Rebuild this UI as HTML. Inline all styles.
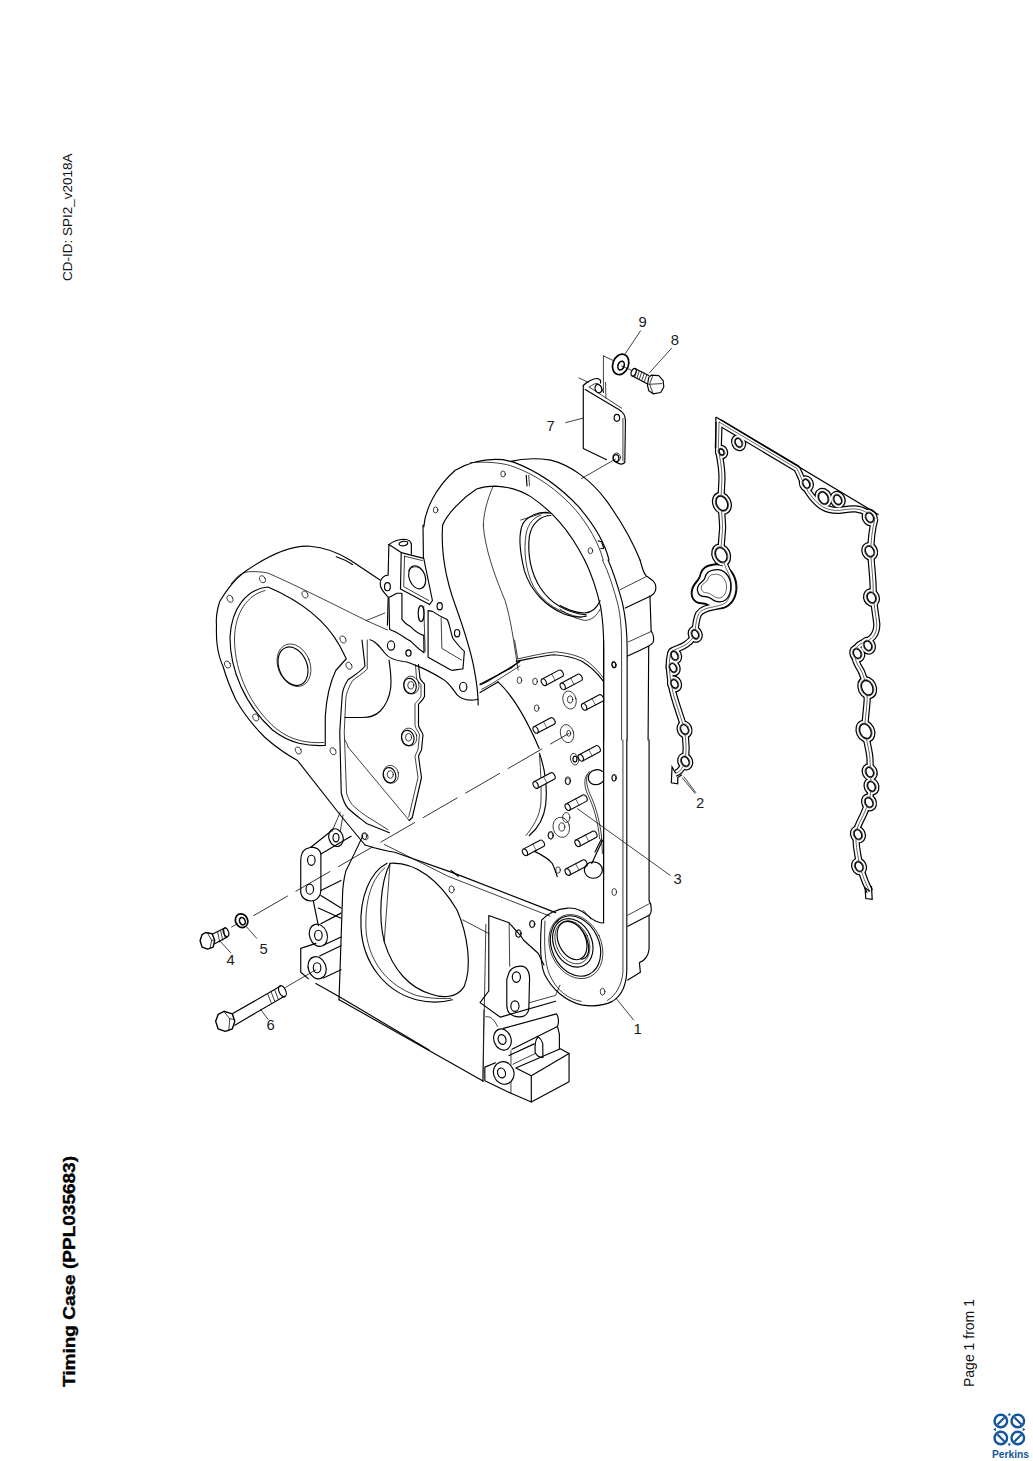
<!DOCTYPE html>
<html><head><meta charset="utf-8">
<style>
html,body{margin:0;padding:0;background:#fff;}
body{width:1033px;height:1461px;position:relative;overflow:hidden;font-family:"Liberation Sans",sans-serif;}
.rot{position:absolute;transform-origin:0 0;white-space:nowrap;color:#111;}
#cdid{left:60px;top:281px;font-size:13.5px;transform:rotate(-90deg);}
#title{left:59px;top:1387px;font-size:17.3px;font-weight:bold;transform:rotate(-90deg) scaleX(1.1);-webkit-text-stroke:0.35px #000;color:#000;}
#page{left:961px;top:1387px;font-size:14px;transform:rotate(-90deg);}
svg{position:absolute;left:0;top:0;}
svg .k{fill:none;stroke:#000;stroke-width:1.15;vector-effect:non-scaling-stroke;stroke-linejoin:round;stroke-linecap:round;}
svg .t{fill:none;stroke:#000;stroke-width:0.75;vector-effect:non-scaling-stroke;stroke-linejoin:round;stroke-linecap:round;}
svg .t *, svg .k *{vector-effect:non-scaling-stroke;}
svg .g1{fill:none;stroke:#000;stroke-width:6.2;stroke-linejoin:round;}
svg .g2{fill:none;stroke:#fff;stroke-width:4.0;stroke-linejoin:round;}
svg .g3{fill:none;stroke:#000;stroke-width:0.6;stroke-linejoin:round;}
svg .boss ellipse{fill:#fff;stroke:#000;stroke-width:1.1;vector-effect:non-scaling-stroke;}
svg .hole ellipse{fill:#fff;stroke:#000;stroke-width:1.3;vector-effect:non-scaling-stroke;}
</style></head><body>
<div class="rot" id="cdid">CD-ID: SPI2_v2018A</div>
<div class="rot" id="title">Timing Case (PPL035683)</div>
<div class="rot" id="page">Page 1 from 1</div>
<svg width="1033" height="1461" viewBox="0 0 1033 1461">
<g transform="translate(190,520) scale(0.25)">
<path class="k" d="M215,210 C300,150 400,100 480,105 C540,110 600,135 640,160 L760,240"/>
<path class="k" d="M585,147 C610,155 630,165 650,178"/>
<path class="k" d="M215,210 C170,245 140,290 119,326 C108,360 104,400 106,421 C105,450 106,480 109,503 C113,530 120,560 132,585 C145,630 165,680 184,720 C215,775 260,830 300,870 C340,905 390,940 430,962 L605,1185 L700,1300"/>
<path class="t" d="M165,255 C185,228 205,210 235,207 C265,205 290,208 310,212 C380,240 560,330 705,402 L790,440"/>
<path class="t" d="M705,402 L780,372"/>
<path class="k" d="M312,268 C230,275 165,350 160,470 C160,600 220,740 330,840 C400,895 470,905 541,902 L541,786 C545,720 560,650 583,602 L625,555 L600,505 C560,432 480,340 312,268"/>
<path class="t" d="M300,282 C230,300 178,370 178,480 C180,610 240,745 345,835 C410,885 470,893 535,890"/>
<ellipse class="k" cx="412" cy="585" rx="56" ry="80" transform="rotate(-22 412 585)"/>
<ellipse class="t" cx="416" cy="581" rx="64" ry="88" transform="rotate(-22 416 581)"/>
<g class="t">
<ellipse cx="290" cy="237" rx="11" ry="15" transform="rotate(-25 290 237)"/><ellipse cx="160" cy="315" rx="11" ry="15" transform="rotate(-25 160 315)"/>
<ellipse cx="460" cy="298" rx="11" ry="15" transform="rotate(-25 460 298)"/><ellipse cx="612" cy="478" rx="11" ry="15" transform="rotate(-25 612 478)"/>
<ellipse cx="636" cy="583" rx="11" ry="15" transform="rotate(-25 636 583)"/><ellipse cx="150" cy="578" rx="11" ry="15" transform="rotate(-25 150 578)"/>
<ellipse cx="263" cy="790" rx="11" ry="15" transform="rotate(-25 263 790)"/><ellipse cx="433" cy="922" rx="11" ry="15" transform="rotate(-25 433 922)"/>
<ellipse cx="572" cy="925" rx="11" ry="15" transform="rotate(-25 572 925)"/><ellipse cx="700" cy="1265" rx="11" ry="15" transform="rotate(-25 700 1265)"/>

</g>
<!-- main plate rim -->
<path class="k" d="M688,480 L700,584 C680,610 650,625 632,639 C615,665 608,690 608,712 L599,847 L605,1092 C612,1120 620,1140 632,1153 C660,1180 690,1200 706,1214 L798,1251"/>
<path class="t" d="M709,480 L709,596 C690,615 665,630 651,642 C635,665 623,700 623,719 L617,847 L626,1092 C635,1120 645,1137 657,1147 C690,1175 705,1185 724,1196 L792,1239"/>
<!-- half disk -->
<path class="k" d="M796,560 C802,600 806,640 803,670 C798,710 785,740 760,765 C740,785 715,790 690,790 L620,790"/>
<!-- rib -->
<path class="k" d="M914,578 L920,633 C925,645 935,650 938,657 L938,706 C932,720 920,730 914,737 L914,823 C920,840 930,850 932,859 L926,920 C920,930 916,940 914,945 L926,1031 L889,1190 L877,1202"/>
<path class="t" d="M902,580 L906,633 C910,645 920,652 924,659 L924,704 C918,718 906,728 900,735 L900,823 C906,840 916,850 918,859 L912,918 C906,930 902,940 900,945 L912,1030 L875,1188"/>
<g class="k"><ellipse cx="880" cy="664" rx="25" ry="31" transform="rotate(-15 880 664)"/><ellipse cx="871" cy="872" rx="25" ry="31" transform="rotate(-15 871 872)"/><ellipse cx="798" cy="1021" rx="25" ry="31" transform="rotate(-15 798 1021)"/></g>
<g class="t"><ellipse cx="883" cy="661" rx="12" ry="15"/><ellipse cx="874" cy="869" rx="12" ry="15"/><ellipse cx="801" cy="1018" rx="12" ry="15"/>
<ellipse cx="886" cy="660" rx="30" ry="36" transform="rotate(-15 886 660)"/><ellipse cx="877" cy="868" rx="30" ry="36" transform="rotate(-15 877 868)"/><ellipse cx="804" cy="1017" rx="30" ry="36" transform="rotate(-15 804 1017)"/></g>
<path class="t" d="M632,908 L877,1202"/>
<path class="t" d="M620,880 L628,895 L632,908"/>
</g>

<!-- cover plate, washer, bolt (zoom origin 560,310 scale 7.946) -->
<g transform="translate(560,310) scale(0.12585)">
<path class="k" d="M185,600 L185,1100 L370,1190"/>
<path class="k" d="M430,1196 C460,1222 495,1232 515,1212 L520,880 C520,840 505,812 470,792 L200,632"/>
<path class="t" d="M500,862 L500,1200"/>
<path class="k" d="M185,600 C205,580 265,540 300,545 L322,558 L322,580"/>
<path class="t" d="M232,612 C255,595 285,578 302,585 L325,605 L345,655"/>
<path class="t" d="M232,612 L490,780"/>
<ellipse class="k" cx="305" cy="625" rx="26" ry="34" transform="rotate(-20 305 625)"/>
<path class="t" d="M345,365 L345,655 M345,365 L420,400 M362,575 L365,700 M150,540 L225,575"/>
<ellipse class="k" cx="452" cy="857" rx="22" ry="28"/>
<ellipse class="k" cx="445" cy="1177" rx="22" ry="28"/>
<ellipse class="t" cx="450" cy="1172" rx="30" ry="36"/>
<path class="t" d="M45,895 L180,860"/>
<path class="t" d="M440,1185 L170,1340"/>
<ellipse class="k" cx="482" cy="432" rx="62" ry="84" transform="rotate(20 482 432)" style="stroke-width:1.7"/>
<ellipse class="k" cx="485" cy="442" rx="24" ry="36" transform="rotate(20 485 442)" style="stroke-width:1.6"/>
<path class="t" d="M490,445 L570,480"/>
<path class="k" d="M595,465 L705,520 M575,525 L700,590"/>
<ellipse class="k" cx="585" cy="495" rx="18" ry="32" transform="rotate(25 585 495)"/>
<path class="t" d="M610,472 L595,530 M630,482 L612,540 M650,492 L630,550 M670,502 L650,560 M690,512 L670,570"/>
<path class="k" d="M705,535 L725,518 L785,522 L820,562 L825,612 L800,656 L740,666 L706,642 L695,598 Z"/>
<path class="t" d="M735,528 L712,590 L740,664 M712,590 L810,585"/>
<path class="t" d="M520,345 L640,165 M710,500 L885,305"/>
</g>

<!-- upper lobe (zoom origin 420,440 scale 3.973) -->
<g transform="translate(420,440) scale(0.2517)">
<path class="k" d="M15,345 C20,280 60,190 140,120 C200,85 260,72 330,78 L372,88"/>
<path class="k" d="M360,85 C400,75 450,70 520,80 C600,100 680,160 740,240 C790,310 840,390 874,477"/>
<path class="k" d="M372,88 C470,125 560,190 630,265 C690,335 735,410 751,477"/>
<path class="t" d="M200,90 C260,85 320,90 360,102 C460,135 550,200 620,280 C670,340 710,410 728,477"/>
<path class="k" d="M90,338 C110,290 170,230 225,195 C250,185 275,183 300,183 C350,185 400,200 440,225 C520,280 590,350 654,477"/>
<path class="t" d="M290,185 C265,240 252,300 252,338"/>
<g class="t"><ellipse cx="330" cy="135" rx="9" ry="12"/><ellipse cx="62" cy="278" rx="9" ry="12"/><ellipse cx="677" cy="440" rx="9" ry="12"/></g>
<path class="k" d="M422,140 L425,182"/>
<path class="t" d="M432,140 L435,182"/>
<!-- big hole -->
<path class="k" d="M510,288 C470,285 430,300 410,330 C390,370 395,440 415,520 C440,600 500,660 570,690 C610,705 640,705 660,700"/>
<path class="t" d="M480,300 C455,305 430,330 422,370 C410,440 420,520 450,580 C490,650 560,690 640,705"/>
<path class="k" d="M520,300 C480,300 445,330 435,380 C425,450 440,530 480,590 C520,650 580,685 660,695"/>
<path class="t" d="M400,318 L490,290 L520,292"/>
<path class="k" d="M708,400 L722,405 L730,430 L718,432"/>
</g>

<g transform="translate(640,400) scale(0.35613)">
<path d="M222,62 L440,192 C452,212 458,240 480,268 C500,294 520,312 560,310 C590,306 612,300 640,318 L660,332" fill="none" stroke="#000" stroke-width="7.2" stroke-linejoin="round" vector-effect="non-scaling-stroke"/>
<path d="M222,62 L220,130 C222,160 232,190 230,225 L228,265 C226,300 232,330 232,360 L228,410 C226,440 240,470 250,490 C262,520 258,550 240,570 C215,585 180,578 165,600 C155,620 158,640 150,665 C135,690 110,695 90,705 C78,725 82,760 88,800 C95,840 112,880 122,915 C130,950 132,990 125,1020 C118,1035 112,1045 100,1048" fill="none" stroke="#000" stroke-width="7.2" stroke-linejoin="round" vector-effect="non-scaling-stroke"/>
<path d="M660,332 C652,360 648,400 648,430 C650,470 655,500 655,540 C655,570 662,600 665,630 C665,660 650,675 625,682 C600,692 598,720 612,745 C630,770 636,800 638,840 C636,880 630,900 632,930 C636,960 645,985 646,1010 C646,1040 650,1075 648,1100 C645,1130 630,1160 615,1190 C602,1215 606,1250 612,1280 C618,1320 630,1350 645,1380" fill="none" stroke="#000" stroke-width="7.2" stroke-linejoin="round" vector-effect="non-scaling-stroke"/>
<ellipse cx="277" cy="120" rx="20.75" ry="24.5" transform="rotate(-25 277 120)" fill="#000"/>
<ellipse cx="229" cy="146" rx="18.25" ry="20.75" transform="rotate(-25 229 146)" fill="#000"/>
<ellipse cx="230" cy="290" rx="27.0" ry="33.25" transform="rotate(-25 230 290)" fill="#000"/>
<ellipse cx="228" cy="435" rx="27.0" ry="33.25" transform="rotate(-25 228 435)" fill="#000"/>
<ellipse cx="155" cy="658" rx="20.75" ry="24.5" transform="rotate(-25 155 658)" fill="#000"/>
<ellipse cx="97" cy="718" rx="20.75" ry="24.5" transform="rotate(-25 97 718)" fill="#000"/>
<ellipse cx="93" cy="752" rx="20.75" ry="24.5" transform="rotate(-25 93 752)" fill="#000"/>
<ellipse cx="97" cy="797" rx="20.75" ry="24.5" transform="rotate(-25 97 797)" fill="#000"/>
<ellipse cx="125" cy="925" rx="22.0" ry="25.75" transform="rotate(-25 125 925)" fill="#000"/>
<ellipse cx="127" cy="1015" rx="22.0" ry="25.75" transform="rotate(-25 127 1015)" fill="#000"/>
<ellipse cx="467" cy="235" rx="20.75" ry="24.5" transform="rotate(-25 467 235)" fill="#000"/>
<ellipse cx="515" cy="275" rx="24.5" ry="29.5" transform="rotate(-25 515 275)" fill="#000"/>
<ellipse cx="555" cy="280" rx="22.0" ry="25.75" transform="rotate(-25 555 280)" fill="#000"/>
<ellipse cx="645" cy="330" rx="22.0" ry="25.75" transform="rotate(-25 645 330)" fill="#000"/>
<ellipse cx="645" cy="425" rx="23.25" ry="27.0" transform="rotate(-25 645 425)" fill="#000"/>
<ellipse cx="650" cy="555" rx="23.25" ry="27.0" transform="rotate(-25 650 555)" fill="#000"/>
<ellipse cx="640" cy="690" rx="22.0" ry="25.75" transform="rotate(-25 640 690)" fill="#000"/>
<ellipse cx="610" cy="712" rx="22.0" ry="25.75" transform="rotate(-25 610 712)" fill="#000"/>
<ellipse cx="638" cy="808" rx="27.0" ry="33.25" transform="rotate(-25 638 808)" fill="#000"/>
<ellipse cx="633" cy="930" rx="27.0" ry="33.25" transform="rotate(-25 633 930)" fill="#000"/>
<ellipse cx="645" cy="1045" rx="22.0" ry="25.75" transform="rotate(-25 645 1045)" fill="#000"/>
<ellipse cx="650" cy="1085" rx="22.0" ry="25.75" transform="rotate(-25 650 1085)" fill="#000"/>
<ellipse cx="643" cy="1130" rx="22.0" ry="25.75" transform="rotate(-25 643 1130)" fill="#000"/>
<ellipse cx="612" cy="1220" rx="22.0" ry="25.75" transform="rotate(-25 612 1220)" fill="#000"/>
<ellipse cx="615" cy="1310" rx="22.0" ry="25.75" transform="rotate(-25 615 1310)" fill="#000"/>
<path d="M200,462 C245,450 275,490 272,532 C268,575 238,592 210,585 C195,580 185,572 172,572 C150,572 140,552 145,532 C150,512 165,505 168,492 C172,474 182,465 200,462 Z" fill="#000" stroke="#000" stroke-width="1" vector-effect="non-scaling-stroke"/>
<path d="M222,62 L440,192 C452,212 458,240 480,268 C500,294 520,312 560,310 C590,306 612,300 640,318 L660,332" fill="none" stroke="#fff" stroke-width="4.8" stroke-linejoin="round" vector-effect="non-scaling-stroke"/>
<path d="M222,62 L220,130 C222,160 232,190 230,225 L228,265 C226,300 232,330 232,360 L228,410 C226,440 240,470 250,490 C262,520 258,550 240,570 C215,585 180,578 165,600 C155,620 158,640 150,665 C135,690 110,695 90,705 C78,725 82,760 88,800 C95,840 112,880 122,915 C130,950 132,990 125,1020 C118,1035 112,1045 100,1048" fill="none" stroke="#fff" stroke-width="4.8" stroke-linejoin="round" vector-effect="non-scaling-stroke"/>
<path d="M660,332 C652,360 648,400 648,430 C650,470 655,500 655,540 C655,570 662,600 665,630 C665,660 650,675 625,682 C600,692 598,720 612,745 C630,770 636,800 638,840 C636,880 630,900 632,930 C636,960 645,985 646,1010 C646,1040 650,1075 648,1100 C645,1130 630,1160 615,1190 C602,1215 606,1250 612,1280 C618,1320 630,1350 645,1380" fill="none" stroke="#fff" stroke-width="4.8" stroke-linejoin="round" vector-effect="non-scaling-stroke"/>
<ellipse cx="277" cy="120" rx="17.25" ry="21.0" transform="rotate(-25 277 120)" fill="#fff"/>
<ellipse cx="229" cy="146" rx="14.75" ry="17.25" transform="rotate(-25 229 146)" fill="#fff"/>
<ellipse cx="230" cy="290" rx="23.5" ry="29.75" transform="rotate(-25 230 290)" fill="#fff"/>
<ellipse cx="228" cy="435" rx="23.5" ry="29.75" transform="rotate(-25 228 435)" fill="#fff"/>
<ellipse cx="155" cy="658" rx="17.25" ry="21.0" transform="rotate(-25 155 658)" fill="#fff"/>
<ellipse cx="97" cy="718" rx="17.25" ry="21.0" transform="rotate(-25 97 718)" fill="#fff"/>
<ellipse cx="93" cy="752" rx="17.25" ry="21.0" transform="rotate(-25 93 752)" fill="#fff"/>
<ellipse cx="97" cy="797" rx="17.25" ry="21.0" transform="rotate(-25 97 797)" fill="#fff"/>
<ellipse cx="125" cy="925" rx="18.5" ry="22.25" transform="rotate(-25 125 925)" fill="#fff"/>
<ellipse cx="127" cy="1015" rx="18.5" ry="22.25" transform="rotate(-25 127 1015)" fill="#fff"/>
<ellipse cx="467" cy="235" rx="17.25" ry="21.0" transform="rotate(-25 467 235)" fill="#fff"/>
<ellipse cx="515" cy="275" rx="21.0" ry="26.0" transform="rotate(-25 515 275)" fill="#fff"/>
<ellipse cx="555" cy="280" rx="18.5" ry="22.25" transform="rotate(-25 555 280)" fill="#fff"/>
<ellipse cx="645" cy="330" rx="18.5" ry="22.25" transform="rotate(-25 645 330)" fill="#fff"/>
<ellipse cx="645" cy="425" rx="19.75" ry="23.5" transform="rotate(-25 645 425)" fill="#fff"/>
<ellipse cx="650" cy="555" rx="19.75" ry="23.5" transform="rotate(-25 650 555)" fill="#fff"/>
<ellipse cx="640" cy="690" rx="18.5" ry="22.25" transform="rotate(-25 640 690)" fill="#fff"/>
<ellipse cx="610" cy="712" rx="18.5" ry="22.25" transform="rotate(-25 610 712)" fill="#fff"/>
<ellipse cx="638" cy="808" rx="23.5" ry="29.75" transform="rotate(-25 638 808)" fill="#fff"/>
<ellipse cx="633" cy="930" rx="23.5" ry="29.75" transform="rotate(-25 633 930)" fill="#fff"/>
<ellipse cx="645" cy="1045" rx="18.5" ry="22.25" transform="rotate(-25 645 1045)" fill="#fff"/>
<ellipse cx="650" cy="1085" rx="18.5" ry="22.25" transform="rotate(-25 650 1085)" fill="#fff"/>
<ellipse cx="643" cy="1130" rx="18.5" ry="22.25" transform="rotate(-25 643 1130)" fill="#fff"/>
<ellipse cx="612" cy="1220" rx="18.5" ry="22.25" transform="rotate(-25 612 1220)" fill="#fff"/>
<ellipse cx="615" cy="1310" rx="18.5" ry="22.25" transform="rotate(-25 615 1310)" fill="#fff"/>
<path d="M201,466 C242,455 271,492 268,532 C264,572 236,588 210,581 C196,577 186,568 172,568 C153,568 144,551 149,533 C154,515 168,508 171,494 C175,478 184,469 201,466 Z" fill="#fff"/>
<path d="M222,62 L440,192 C452,212 458,240 480,268 C500,294 520,312 560,310 C590,306 612,300 640,318 L660,332" fill="none" stroke="#000" stroke-width="0.6" stroke-linejoin="round" vector-effect="non-scaling-stroke"/>
<path d="M222,62 L220,130 C222,160 232,190 230,225 L228,265 C226,300 232,330 232,360 L228,410 C226,440 240,470 250,490 C262,520 258,550 240,570 C215,585 180,578 165,600 C155,620 158,640 150,665 C135,690 110,695 90,705 C78,725 82,760 88,800 C95,840 112,880 122,915 C130,950 132,990 125,1020 C118,1035 112,1045 100,1048" fill="none" stroke="#000" stroke-width="0.6" stroke-linejoin="round" vector-effect="non-scaling-stroke"/>
<path d="M660,332 C652,360 648,400 648,430 C650,470 655,500 655,540 C655,570 662,600 665,630 C665,660 650,675 625,682 C600,692 598,720 612,745 C630,770 636,800 638,840 C636,880 630,900 632,930 C636,960 645,985 646,1010 C646,1040 650,1075 648,1100 C645,1130 630,1160 615,1190 C602,1215 606,1250 612,1280 C618,1320 630,1350 645,1380" fill="none" stroke="#000" stroke-width="0.6" stroke-linejoin="round" vector-effect="non-scaling-stroke"/>
<ellipse cx="277" cy="120" rx="11.25" ry="15.0" transform="rotate(-25 277 120)" fill="#fff" stroke="#000" stroke-width="0.6" vector-effect="non-scaling-stroke"/>
<ellipse cx="277" cy="120" rx="8.75" ry="12.5" transform="rotate(-25 277 120)" fill="#fff" stroke="#000" stroke-width="1.3" vector-effect="non-scaling-stroke"/>
<ellipse cx="229" cy="146" rx="8.75" ry="11.25" transform="rotate(-25 229 146)" fill="#fff" stroke="#000" stroke-width="0.6" vector-effect="non-scaling-stroke"/>
<ellipse cx="229" cy="146" rx="6.25" ry="8.75" transform="rotate(-25 229 146)" fill="#fff" stroke="#000" stroke-width="1.3" vector-effect="non-scaling-stroke"/>
<ellipse cx="230" cy="290" rx="17.5" ry="23.75" transform="rotate(-25 230 290)" fill="#fff" stroke="#000" stroke-width="0.6" vector-effect="non-scaling-stroke"/>
<ellipse cx="230" cy="290" rx="15.0" ry="21.25" transform="rotate(-25 230 290)" fill="#fff" stroke="#000" stroke-width="1.3" vector-effect="non-scaling-stroke"/>
<ellipse cx="228" cy="435" rx="17.5" ry="23.75" transform="rotate(-25 228 435)" fill="#fff" stroke="#000" stroke-width="0.6" vector-effect="non-scaling-stroke"/>
<ellipse cx="228" cy="435" rx="15.0" ry="21.25" transform="rotate(-25 228 435)" fill="#fff" stroke="#000" stroke-width="1.3" vector-effect="non-scaling-stroke"/>
<ellipse cx="155" cy="658" rx="11.25" ry="15.0" transform="rotate(-25 155 658)" fill="#fff" stroke="#000" stroke-width="0.6" vector-effect="non-scaling-stroke"/>
<ellipse cx="155" cy="658" rx="8.75" ry="12.5" transform="rotate(-25 155 658)" fill="#fff" stroke="#000" stroke-width="1.3" vector-effect="non-scaling-stroke"/>
<ellipse cx="97" cy="718" rx="11.25" ry="15.0" transform="rotate(-25 97 718)" fill="#fff" stroke="#000" stroke-width="0.6" vector-effect="non-scaling-stroke"/>
<ellipse cx="97" cy="718" rx="8.75" ry="12.5" transform="rotate(-25 97 718)" fill="#fff" stroke="#000" stroke-width="1.3" vector-effect="non-scaling-stroke"/>
<ellipse cx="93" cy="752" rx="11.25" ry="15.0" transform="rotate(-25 93 752)" fill="#fff" stroke="#000" stroke-width="0.6" vector-effect="non-scaling-stroke"/>
<ellipse cx="93" cy="752" rx="8.75" ry="12.5" transform="rotate(-25 93 752)" fill="#fff" stroke="#000" stroke-width="1.3" vector-effect="non-scaling-stroke"/>
<ellipse cx="97" cy="797" rx="11.25" ry="15.0" transform="rotate(-25 97 797)" fill="#fff" stroke="#000" stroke-width="0.6" vector-effect="non-scaling-stroke"/>
<ellipse cx="97" cy="797" rx="8.75" ry="12.5" transform="rotate(-25 97 797)" fill="#fff" stroke="#000" stroke-width="1.3" vector-effect="non-scaling-stroke"/>
<ellipse cx="125" cy="925" rx="12.5" ry="16.25" transform="rotate(-25 125 925)" fill="#fff" stroke="#000" stroke-width="0.6" vector-effect="non-scaling-stroke"/>
<ellipse cx="125" cy="925" rx="10.0" ry="13.75" transform="rotate(-25 125 925)" fill="#fff" stroke="#000" stroke-width="1.3" vector-effect="non-scaling-stroke"/>
<ellipse cx="127" cy="1015" rx="12.5" ry="16.25" transform="rotate(-25 127 1015)" fill="#fff" stroke="#000" stroke-width="0.6" vector-effect="non-scaling-stroke"/>
<ellipse cx="127" cy="1015" rx="10.0" ry="13.75" transform="rotate(-25 127 1015)" fill="#fff" stroke="#000" stroke-width="1.3" vector-effect="non-scaling-stroke"/>
<ellipse cx="467" cy="235" rx="11.25" ry="15.0" transform="rotate(-25 467 235)" fill="#fff" stroke="#000" stroke-width="0.6" vector-effect="non-scaling-stroke"/>
<ellipse cx="467" cy="235" rx="8.75" ry="12.5" transform="rotate(-25 467 235)" fill="#fff" stroke="#000" stroke-width="1.3" vector-effect="non-scaling-stroke"/>
<ellipse cx="515" cy="275" rx="15.0" ry="20.0" transform="rotate(-25 515 275)" fill="#fff" stroke="#000" stroke-width="0.6" vector-effect="non-scaling-stroke"/>
<ellipse cx="515" cy="275" rx="12.5" ry="17.5" transform="rotate(-25 515 275)" fill="#fff" stroke="#000" stroke-width="1.3" vector-effect="non-scaling-stroke"/>
<ellipse cx="555" cy="280" rx="12.5" ry="16.25" transform="rotate(-25 555 280)" fill="#fff" stroke="#000" stroke-width="0.6" vector-effect="non-scaling-stroke"/>
<ellipse cx="555" cy="280" rx="10.0" ry="13.75" transform="rotate(-25 555 280)" fill="#fff" stroke="#000" stroke-width="1.3" vector-effect="non-scaling-stroke"/>
<ellipse cx="645" cy="330" rx="12.5" ry="16.25" transform="rotate(-25 645 330)" fill="#fff" stroke="#000" stroke-width="0.6" vector-effect="non-scaling-stroke"/>
<ellipse cx="645" cy="330" rx="10.0" ry="13.75" transform="rotate(-25 645 330)" fill="#fff" stroke="#000" stroke-width="1.3" vector-effect="non-scaling-stroke"/>
<ellipse cx="645" cy="425" rx="13.75" ry="17.5" transform="rotate(-25 645 425)" fill="#fff" stroke="#000" stroke-width="0.6" vector-effect="non-scaling-stroke"/>
<ellipse cx="645" cy="425" rx="11.25" ry="15.0" transform="rotate(-25 645 425)" fill="#fff" stroke="#000" stroke-width="1.3" vector-effect="non-scaling-stroke"/>
<ellipse cx="650" cy="555" rx="13.75" ry="17.5" transform="rotate(-25 650 555)" fill="#fff" stroke="#000" stroke-width="0.6" vector-effect="non-scaling-stroke"/>
<ellipse cx="650" cy="555" rx="11.25" ry="15.0" transform="rotate(-25 650 555)" fill="#fff" stroke="#000" stroke-width="1.3" vector-effect="non-scaling-stroke"/>
<ellipse cx="640" cy="690" rx="12.5" ry="16.25" transform="rotate(-25 640 690)" fill="#fff" stroke="#000" stroke-width="0.6" vector-effect="non-scaling-stroke"/>
<ellipse cx="640" cy="690" rx="10.0" ry="13.75" transform="rotate(-25 640 690)" fill="#fff" stroke="#000" stroke-width="1.3" vector-effect="non-scaling-stroke"/>
<ellipse cx="610" cy="712" rx="12.5" ry="16.25" transform="rotate(-25 610 712)" fill="#fff" stroke="#000" stroke-width="0.6" vector-effect="non-scaling-stroke"/>
<ellipse cx="610" cy="712" rx="10.0" ry="13.75" transform="rotate(-25 610 712)" fill="#fff" stroke="#000" stroke-width="1.3" vector-effect="non-scaling-stroke"/>
<ellipse cx="638" cy="808" rx="17.5" ry="23.75" transform="rotate(-25 638 808)" fill="#fff" stroke="#000" stroke-width="0.6" vector-effect="non-scaling-stroke"/>
<ellipse cx="638" cy="808" rx="15.0" ry="21.25" transform="rotate(-25 638 808)" fill="#fff" stroke="#000" stroke-width="1.3" vector-effect="non-scaling-stroke"/>
<ellipse cx="633" cy="930" rx="17.5" ry="23.75" transform="rotate(-25 633 930)" fill="#fff" stroke="#000" stroke-width="0.6" vector-effect="non-scaling-stroke"/>
<ellipse cx="633" cy="930" rx="15.0" ry="21.25" transform="rotate(-25 633 930)" fill="#fff" stroke="#000" stroke-width="1.3" vector-effect="non-scaling-stroke"/>
<ellipse cx="645" cy="1045" rx="12.5" ry="16.25" transform="rotate(-25 645 1045)" fill="#fff" stroke="#000" stroke-width="0.6" vector-effect="non-scaling-stroke"/>
<ellipse cx="645" cy="1045" rx="10.0" ry="13.75" transform="rotate(-25 645 1045)" fill="#fff" stroke="#000" stroke-width="1.3" vector-effect="non-scaling-stroke"/>
<ellipse cx="650" cy="1085" rx="12.5" ry="16.25" transform="rotate(-25 650 1085)" fill="#fff" stroke="#000" stroke-width="0.6" vector-effect="non-scaling-stroke"/>
<ellipse cx="650" cy="1085" rx="10.0" ry="13.75" transform="rotate(-25 650 1085)" fill="#fff" stroke="#000" stroke-width="1.3" vector-effect="non-scaling-stroke"/>
<ellipse cx="643" cy="1130" rx="12.5" ry="16.25" transform="rotate(-25 643 1130)" fill="#fff" stroke="#000" stroke-width="0.6" vector-effect="non-scaling-stroke"/>
<ellipse cx="643" cy="1130" rx="10.0" ry="13.75" transform="rotate(-25 643 1130)" fill="#fff" stroke="#000" stroke-width="1.3" vector-effect="non-scaling-stroke"/>
<ellipse cx="612" cy="1220" rx="12.5" ry="16.25" transform="rotate(-25 612 1220)" fill="#fff" stroke="#000" stroke-width="0.6" vector-effect="non-scaling-stroke"/>
<ellipse cx="612" cy="1220" rx="10.0" ry="13.75" transform="rotate(-25 612 1220)" fill="#fff" stroke="#000" stroke-width="1.3" vector-effect="non-scaling-stroke"/>
<ellipse cx="615" cy="1310" rx="12.5" ry="16.25" transform="rotate(-25 615 1310)" fill="#fff" stroke="#000" stroke-width="0.6" vector-effect="non-scaling-stroke"/>
<ellipse cx="615" cy="1310" rx="10.0" ry="13.75" transform="rotate(-25 615 1310)" fill="#fff" stroke="#000" stroke-width="1.3" vector-effect="non-scaling-stroke"/>
<path d="M213,48 L670,322 M213,48 L213,135" fill="none" stroke="#000" stroke-width="1.2" vector-effect="non-scaling-stroke"/>
<path d="M205,478 C235,470 258,495 255,530 C252,560 232,572 212,565 C200,560 195,550 180,552 C165,552 158,538 162,525 C166,512 180,510 182,500 C185,488 192,480 205,478 Z" fill="#fff" stroke="#000" stroke-width="1.3" vector-effect="non-scaling-stroke"/>
<path d="M206,490 C228,485 245,505 243,530 C240,552 226,560 212,554 C202,549 196,541 184,541 C174,540 170,530 173,522 C177,514 188,512 190,504 C193,495 198,490 206,490 Z" fill="none" stroke="#000" stroke-width="0.6" vector-effect="non-scaling-stroke"/>
<path d="M100,1048 L90,1030 L88,1075 L106,1078 L106,1060 L118,1052" fill="none" stroke="#000" stroke-width="1.2" vector-effect="non-scaling-stroke"/>
<path d="M645,1380 L632,1370 L634,1400 L652,1402 L650,1365" fill="none" stroke="#000" stroke-width="1.2" vector-effect="non-scaling-stroke"/>
<path d="M118,1060 L155,1105" fill="none" stroke="#000" stroke-width="0.75" vector-effect="non-scaling-stroke"/>
</g>

<!-- right band upper (origin 560,560 scale 8.117) -->
<g transform="translate(560,560) scale(0.1232)">
<path class="k" d="M200,0 C250,100 300,250 330,380 C345,470 355,600 355,720 L355,1461"/>
<path class="t" d="M345,0 C400,110 440,250 470,360 C490,450 500,560 500,700 L500,1461"/>
<path class="k" d="M390,0 C440,110 480,250 505,340 C530,450 545,560 545,720 L545,1461"/>
<path class="k" d="M650,0 C665,60 680,110 700,130 C730,150 760,160 775,200 C785,240 775,270 740,290 L530,390"/>
<path class="t" d="M490,240 L700,135"/>
<path class="k" d="M730,290 L740,580 C760,600 765,640 755,670 C745,690 720,700 550,780"/>
<path class="t" d="M555,665 L745,578"/>
<path class="k" d="M720,700 L715,1461"/>
<!-- lower boundary of upper lobe -->
<path class="k" d="M0,370 C60,400 120,430 200,430 C260,425 300,390 325,330"/>
<path class="t" d="M0,400 C60,440 130,480 200,490 C260,490 300,450 325,400"/>
<g class="k"><ellipse cx="438" cy="850" rx="16" ry="24" transform="rotate(-15 438 850)"/></g>
</g>
<!-- right band lower + seal (origin 500,740 scale 5.165) -->
<g transform="translate(500,740) scale(0.19361)">
<path class="k" d="M655,0 L655,1180 C655,1260 630,1320 580,1350 C540,1370 480,1378 420,1368 C340,1350 270,1290 230,1210 C205,1150 205,1060 215,930 C240,900 290,872 350,868 C400,866 430,885 470,920 C490,935 510,945 535,945 L535,0"/>
<path class="t" d="M635,0 L635,1200 C630,1260 600,1320 555,1345"/>
<path class="t" d="M232,935 C228,1050 230,1150 255,1210 C290,1290 350,1340 420,1350"/>
<path class="k" d="M770,0 L770,830 C785,850 785,895 770,905 L660,962"/>
<path class="t" d="M660,905 L772,845"/>
<path class="k" d="M770,905 L770,1080 C765,1120 745,1140 720,1150 L725,1200 L660,1240"/>
<!-- seal rings -->
<ellipse class="t" cx="392" cy="1067" rx="132" ry="172" transform="rotate(-25 392 1067)"/>
<ellipse class="k" cx="390" cy="1064" rx="122" ry="162" transform="rotate(-25 390 1064)"/>
<ellipse class="k" cx="376" cy="1048" rx="98" ry="130" transform="rotate(-25 376 1048)"/>
<ellipse class="t" cx="374" cy="1045" rx="84" ry="116" transform="rotate(-25 374 1045)"/>
<ellipse class="k" cx="372" cy="1036" rx="70" ry="104" transform="rotate(-25 372 1036)"/>
<path class="k" d="M350,935 C400,940 440,990 455,1050 C465,1100 450,1130 420,1132" stroke-width="2.2"/>
<path class="t" d="M430,880 L470,925"/>
<g class="t"><ellipse cx="590" cy="195" rx="12" ry="18"/><ellipse cx="590" cy="785" rx="12" ry="18"/><ellipse cx="530" cy="1300" rx="12" ry="18"/><ellipse cx="350" cy="210" rx="14" ry="20"/><ellipse cx="262" cy="492" rx="14" ry="20"/><ellipse cx="165" cy="950" rx="13" ry="18"/><ellipse cx="95" cy="1000" rx="13" ry="18"/></g>
<!-- leaders -->
<path class="t" d="M400,355 L880,700"/>
<path class="t" d="M600,1335 L690,1446"/>
<path class="t" d="M950,190 L1010,270"/>
</g>

<!-- bottom-left column & bolts (origin 190,820 scale 3.973) -->
<g transform="translate(190,820) scale(0.2517)">
<!-- bolt 4 -->
<path class="k" style="stroke-width:1.4" d="M48,455 L62,447 L88,452 L98,478 L92,505 L70,513 L48,505 L40,480 Z"/>
<path class="t" d="M70,450 L86,478 L80,508 M86,478 L98,478"/>
<path class="k" d="M92,452 L140,428 M98,492 L148,465"/>
<ellipse class="k" cx="143" cy="446" rx="10" ry="18" transform="rotate(-20 143 446)"/>
<path class="t" d="M110,445 L118,485 M122,440 L130,478 M134,434 L140,470"/>
<path class="t" d="M120,482 L162,528"/>
<!-- washer 5 -->
<ellipse class="k" cx="205" cy="400" rx="24" ry="28" transform="rotate(-25 205 400)" style="stroke-width:1.7"/>
<ellipse class="k" cx="208" cy="402" rx="11" ry="15" transform="rotate(-25 208 402)" style="stroke-width:1.5"/>
<path class="t" d="M165,425 L190,412 M225,425 L265,470"/>

<!-- bolt 6 -->
<path class="k" style="stroke-width:1.4" d="M112,772 L135,760 L168,770 L178,800 L168,830 L140,840 L112,830 L102,800 Z"/>
<path class="t" d="M138,765 L158,790 L154,838 M158,790 L176,792"/>
<path class="k" d="M168,770 L360,660 M178,815 L375,700"/>
<ellipse class="k" cx="367" cy="680" rx="13" ry="24" transform="rotate(-25 367 680)"/>
<path class="t" d="M308,690 L322,725 M322,682 L336,718 M336,674 L350,710"/>
<path class="t" d="M280,752 L310,792 M380,665 L500,595"/>
<!-- left column -->
<path class="k" d="M460,115 C445,125 440,140 440,160 L440,290 C445,310 460,320 480,322 C505,322 520,300 520,280 L520,135 C515,115 500,108 480,108 Z"/>
<ellipse class="k" cx="482" cy="160" rx="15" ry="20"/><ellipse class="k" cx="476" cy="275" rx="15" ry="20"/>
<path class="k" d="M480,108 L560,45 M520,135 L640,65 M520,280 L600,240"/>
<ellipse class="k" cx="580" cy="70" rx="28" ry="36" transform="rotate(-20 580 70)"/>
<ellipse class="k" cx="580" cy="70" rx="12" ry="17"/>
<path class="t" d="M597,-31 L564,46 M608,-20 L597,46"/>
<ellipse class="t" cx="693" cy="65" rx="9" ry="12"/>
<path class="k" d="M490,322 L510,420 M520,300 L600,350 M510,350 L600,390"/>
<ellipse class="k" cx="510" cy="458" rx="35" ry="45" transform="rotate(-20 510 458)"/>
<ellipse class="k" cx="510" cy="458" rx="15" ry="20"/>
<path class="k" d="M520,412 L600,370 M530,498 L600,465"/>
<path class="k" d="M440,510 L440,605 L470,630 M440,510 L500,490"/>
<ellipse class="k" cx="505" cy="587" rx="35" ry="45" transform="rotate(-20 505 587)"/>
<ellipse class="k" cx="505" cy="587" rx="15" ry="20"/>
<path class="k" d="M515,540 L600,500 M530,628 L600,595"/>
<path class="k" d="M500,650 L590,700 L950,914"/>
<path class="k" d="M686,63 C670,100 640,160 619,203 C610,240 606,280 606,302 L592,715"/>
</g>
<!-- bottom center (origin 300,840 scale 3.443) -->
<g transform="translate(300,840) scale(0.29044)">
<path class="k" d="M135,550 L630,830"/>
<path class="t" d="M640,290 L630,830"/>
<path class="t" d="M290,15 L510,125 L860,262 M560,275 L650,322"/>
<path class="k" d="M224,17 C270,32 300,38 326,42 L530,114 L880,250"/><path class="k" d="M520,105 L545,125"/>
<ellipse class="t" cx="522" cy="170" rx="9" ry="12"/><ellipse class="t" cx="800" cy="290" rx="9" ry="12"/><ellipse class="t" cx="752" cy="322" rx="10" ry="13"/>
<!-- crank hole -->
<path class="k" d="M300,80 C240,110 205,200 210,300 C215,420 290,520 400,550 C440,560 490,560 525,550"/>
<path class="t" d="M292,96 C238,140 222,230 228,320 C240,420 300,500 400,535 C440,545 480,548 520,545"/>
<path class="k" d="M310,80 C400,75 480,140 540,240 C580,330 592,440 565,505 C540,545 490,545 450,530 C380,510 320,450 290,350 C270,270 275,150 310,80 Z"/>
<path class="t" d="M310,80 L290,350"/>
<!-- right pad -->
<path class="k" d="M720,455 C730,435 760,430 775,438 C790,450 792,470 790,490 L788,580 C785,605 765,612 745,608 C725,604 712,590 712,570 L712,480 Z"/>
<ellipse class="k" cx="745" cy="472" rx="14" ry="18"/><ellipse class="k" cx="740" cy="572" rx="14" ry="18"/>
<path class="k" d="M650,260 L720,285 L760,330 L770,345 L820,390 L840,430 M650,260 L650,520 L620,560 L690,610 L880,555"/>
<path class="t" d="M720,285 L722,435 M790,560 L880,535 L895,500"/>







</g>

<!-- feet (origin 480,1010 scale 10.33) -->
<g transform="translate(480,1010) scale(0.096805)">
<path class="k" d="M240,190 L790,40 C815,70 815,140 800,170 L330,405"/>
<ellipse class="k" cx="232" cy="305" rx="88" ry="112" transform="rotate(-20 232 305)"/>
<ellipse class="k" cx="228" cy="305" rx="40" ry="52" transform="rotate(-20 228 305)"/>
<path class="k" d="M300,470 L560,350 M800,170 L820,250 L820,400"/>
<path class="t" d="M320,420 L320,560 M340,560 L570,450"/>
<path class="k" d="M570,440 C565,380 570,310 600,275 C620,290 640,320 648,345 L650,490 C620,492 590,480 570,440 Z"/>
<ellipse class="k" cx="245" cy="650" rx="105" ry="118" transform="rotate(-20 245 650)"/>
<ellipse class="k" cx="222" cy="650" rx="40" ry="52" transform="rotate(-20 222 650)"/>
<path class="k" d="M370,600 L830,400 L920,450 L530,680 Z"/>
<path class="k" d="M530,680 L530,950 L920,740 L920,450"/>
<path class="t" d="M320,740 L320,860"/>
<path class="k" d="M50,590 L160,545 M50,590 L50,730 L320,860 L530,950"/>
<path class="t" d="M40,0 L30,740 M60,70 C110,60 150,100 180,170"/>
</g>

<!-- bracket (origin 370,525 scale 6.887) -->
<g transform="translate(370,525) scale(0.1452)">
<path class="k" d="M365,0 L368,230"/>
<path class="k" d="M500,0 C490,150 505,330 590,560 C640,700 690,850 715,980 C735,1080 745,1160 745,1240"/>
<path class="t" d="M780,0 C790,150 850,330 930,520 C970,650 990,800 1020,1000"/>
<path class="k" d="M760,1100 C800,1090 900,1020 1033,940"/>
<path class="t" d="M770,1130 C820,1110 920,1040 1033,970"/>
<!-- bracket top -->
<path class="k" d="M130,135 C150,120 190,100 230,98 C265,98 285,115 285,140 L285,200"/>
<path class="k" d="M130,135 L215,190 L370,230"/>
<ellipse class="k" cx="230" cy="128" rx="30" ry="15" transform="rotate(-8 230 128)"/>
<path class="k" d="M130,135 L125,345 C95,345 70,370 70,405 C70,445 100,470 125,495 L120,690"/>
<ellipse class="k" cx="120" cy="425" rx="20" ry="28"/>
<path class="k" d="M215,190 L210,440 L410,548 L430,520 L370,230"/>
<path class="t" d="M238,215 L232,425 L405,520 M238,215 L360,245"/>
<ellipse class="k" cx="325" cy="360" rx="55" ry="82" transform="rotate(-20 325 360)"/>
<path class="t" d="M265,315 C290,275 340,280 365,320"/>
<path class="k" d="M130,500 L185,470 L215,470 M220,470 L220,650 C240,680 260,690 280,700 C300,720 320,745 370,760 L372,880 M130,500 L135,720 C200,740 250,790 280,800 C320,840 340,860 372,880"/>
<ellipse class="k" cx="352" cy="610" rx="20" ry="55"/>
<path class="k" d="M400,590 L400,910 L560,1000 C590,1000 615,990 640,992 L650,870 C620,845 600,820 570,780 C550,720 550,680 530,650 C510,640 490,635 430,595 Z"/>
<path class="t" d="M490,640 L495,850 L630,930"/>
<path class="t" d="M370,560 L380,870"/>
<g class="k"><ellipse cx="480" cy="560" rx="18" ry="25"/><ellipse cx="600" cy="745" rx="18" ry="25"/><ellipse cx="145" cy="830" rx="25" ry="32"/><ellipse cx="265" cy="882" rx="18" ry="22"/><ellipse cx="642" cy="1115" rx="25" ry="32"/></g>
<!-- band lower wavy boundary -->
<path class="k" d="M0,790 C40,800 70,840 100,880 C130,920 180,935 230,940 C260,940 280,955 310,965 C380,990 450,1030 500,1060 C545,1085 570,1130 600,1170 C630,1200 680,1215 745,1200"/>


</g>

<defs>
<g id="stud"><path d="M-58,-22 L58,-22 A14,22 0 0 1 58,22 L-58,22" fill="#fff" stroke="#000" stroke-width="1.1" vector-effect="non-scaling-stroke"/><ellipse cx="-58" cy="0" rx="14" ry="22" fill="#fff" stroke="#000" stroke-width="1.1" vector-effect="non-scaling-stroke"/><path d="M8,-22 L8,22" stroke="#000" stroke-width="0.6" vector-effect="non-scaling-stroke"/></g>
</defs>
<!-- plate studs (origin 480,640 scale 6.086) -->
<g transform="translate(480,640) scale(0.16431)">
<path class="k" d="M220,130 C300,115 380,95 450,90 C520,95 580,110 620,130 C670,160 720,210 750,250"/>
<path class="t" d="M230,115 C300,100 390,78 460,72 C530,78 590,95 630,115 C680,145 725,195 750,230 M210,0 L230,115"/>
<path class="k" d="M0,270 L190,170 L240,130 M0,320 L110,255"/>
<path class="k" d="M110,255 C180,320 270,450 360,660"/>
<path class="k" d="M362,690 C400,800 410,900 400,1000 C390,1080 360,1140 300,1190"/>
<path class="t" d="M280,1190 C320,1140 360,1080 370,1000 C375,920 370,800 362,700"/>
<path class="k" d="M752,0 L752,1461"/>
<g class="k">
<use href="#stud" transform="translate(440,230) rotate(-28)"/>
<use href="#stud" transform="translate(555,255) rotate(-28)"/>
<use href="#stud" transform="translate(685,380) rotate(-28)"/>
<use href="#stud" transform="translate(390,520) rotate(-28)"/>
<use href="#stud" transform="translate(665,690) rotate(-28)"/>
<use href="#stud" transform="translate(390,855) rotate(-28)"/>
<use href="#stud" transform="translate(585,990) rotate(-28)"/>
<use href="#stud" transform="translate(645,1210) rotate(-28)"/>
<use href="#stud" transform="translate(325,1265) rotate(-28)"/>
<use href="#stud" transform="translate(585,1385) rotate(-28)"/>
</g>
<g class="t">
<ellipse cx="545" cy="365" rx="40" ry="56" transform="rotate(-15 545 365)"/><ellipse cx="548" cy="362" rx="16" ry="22"/>
<ellipse cx="530" cy="570" rx="40" ry="56" transform="rotate(-15 530 570)"/><ellipse cx="540" cy="568" rx="12" ry="18"/>
<ellipse cx="575" cy="725" rx="24" ry="36" transform="rotate(-15 575 725)"/>
<ellipse cx="495" cy="1140" rx="50" ry="62" transform="rotate(-15 495 1140)"/><ellipse cx="498" cy="1138" rx="18" ry="25"/>
<ellipse cx="525" cy="1080" rx="22" ry="30"/>
</g>
<g class="k"><ellipse cx="578" cy="725" rx="12" ry="18"/></g>
<g class="t">
<ellipse cx="240" cy="245" rx="14" ry="20"/><ellipse cx="335" cy="252" rx="14" ry="20"/><ellipse cx="345" cy="415" rx="14" ry="20"/>
<ellipse cx="535" cy="860" rx="14" ry="20"/><ellipse cx="430" cy="1190" rx="14" ry="20"/><ellipse cx="475" cy="1400" rx="14" ry="20"/>
<ellipse cx="815" cy="150" rx="12" ry="18"/><ellipse cx="815" cy="840" rx="12" ry="18"/>
</g>
<path class="k" d="M745,800 C720,780 680,790 665,815 C650,850 670,880 700,880 C720,880 740,870 748,860"/>
<path class="t" d="M665,800 C640,830 645,880 670,940 C700,1000 730,1100 740,1200 L745,1300 M650,820 C630,850 635,900 660,950 C690,1010 720,1110 728,1210"/>

<path class="k" d="M330,1285 C380,1310 420,1330 440,1360 C450,1380 460,1410 470,1440"/>
<path class="k" d="M700,1290 L740,1210 M680,1360 L745,1220"/>
<ellipse class="k" cx="690" cy="1400" rx="55" ry="50"/>
</g>

<!-- Perkins logo -->
<g fill="none" stroke="#14569a" stroke-width="2.4">
<circle cx="1000.8" cy="1421" r="6.3"/><circle cx="1017.8" cy="1421" r="6.3"/>
<circle cx="1000.8" cy="1438" r="6.3"/><circle cx="1017.8" cy="1438" r="6.3"/>
<path d="M997.5,1424.5 L1004.5,1417.5 M1014.5,1417.5 L1021.5,1424.5 M997.5,1434.5 L1004.5,1441.5 M1014.5,1441.5 L1021.5,1434.5" stroke-width="2.2"/>
</g>
<g fill="#14569a"><path d="M1009.3,1412.8 L1011,1415.5 L1007.6,1415.5 Z M1009.3,1446.5 L1011,1443.5 L1007.6,1443.5 Z M993.2,1429.5 L996,1427.8 L996,1431.2 Z M1025.5,1429.5 L1022.7,1427.8 L1022.7,1431.2 Z"/></g>
<text x="992" y="1458.2" font-family="Liberation Sans, sans-serif" font-weight="bold" font-size="10.6" fill="#14569a" textLength="37" lengthAdjust="spacingAndGlyphs">Perkins</text>

<path d="M253.2,915.9 L569.2,733.2" fill="none" stroke="#000" stroke-width="0.8" stroke-dasharray="40 9"/>

<g font-family="Liberation Sans, sans-serif" font-size="14.8" fill="#1a1a1a" text-anchor="middle">
<text x="642.7" y="326.5">9</text>
<text x="674.8" y="344.70000000000005">8</text>
<text x="550.5" y="431.40000000000003">7</text>
<text x="700.2" y="807.6">2</text>
<text x="677.5" y="883.8000000000001">3</text>
<text x="637.5" y="1034.3">1</text>
<text x="230.7" y="964.8000000000001">4</text>
<text x="263.5" y="953.5">5</text>
<text x="270.5" y="1030.1">6</text>
</g>

</svg>
</body></html>
